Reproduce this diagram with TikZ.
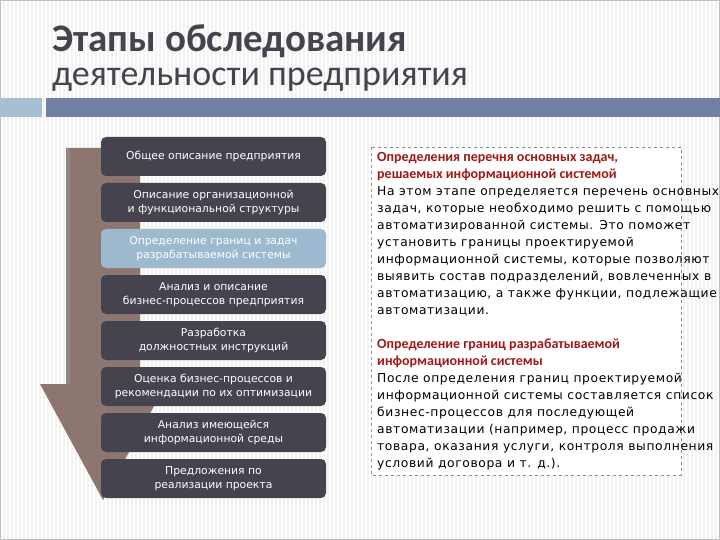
\documentclass[tikz,border=0pt]{standalone}
\usepackage{fontspec}
\setmainfont{Carlito}
\newfontfamily\boxfont{DejaVu Sans}
\newfontfamily\bodyfont[LetterSpace=5]{DejaVu Sans}
\definecolor{boxdark}{HTML}{45444E}
\definecolor{boxlight}{HTML}{9DB9CE}
\definecolor{barblue}{HTML}{7480A3}
\definecolor{sqblue}{HTML}{A7BFD3}
\definecolor{arrowbrown}{HTML}{8E7670}
\definecolor{titlegray}{HTML}{45444E}
\definecolor{headred}{HTML}{A01818}
\newcommand{\hd}[1]{{\color{headred}\rmfamily\fontsize{14}{17}\bfseries\selectfont #1}}
\begin{document}
\begin{tikzpicture}[x=1pt,y=-1pt,
  stage/.style={rounded corners=5pt, minimum width=225pt, minimum height=39pt, inner sep=0pt, align=center, text=white, font=\boxfont\fontsize{10.8}{14}\selectfont},
  dark/.style={stage, fill=boxdark},
  light/.style={stage, fill=boxlight}]
\useasboundingbox (0,0) rectangle (720,540);
\fill[white] (0,0) rectangle (720,540);
\foreach \i in {0,4,...,720} \draw[black!5, line width=1.4pt] (\i,0) -- (\i,540);
\draw[black!25] (0.5,0.5) rectangle (719.5,539.5);
% title
\node[anchor=base west, inner sep=0pt, text=titlegray, font=\fontsize{39}{44}\bfseries\selectfont] (t1) at (52,52) {Этапы обследования};
\node[anchor=base west, inner sep=0pt, text=titlegray, font=\fontsize{36}{42}\selectfont] (t2) at (52,86) {деятельности предприятия};
% bar
\fill[sqblue] (0,98) rectangle (42,117);
\fill[barblue] (46,98) rectangle (720,117);
% arrow
\fill[arrowbrown] (66,148) -- (140,148) -- (140,384) -- (166,384) -- (103,500) -- (40,384) -- (66,384) -- cycle;
\fill[black!40, opacity=0.5] (66,148) rectangle (70,384);
% boxes
\node[dark]  (b1) at (213.5,156.5) {Общее описание предприятия};
\node[dark]  (b2) at (213.5,202.5) {Описание организационной\\и функциональной структуры};
\node[light] (b3) at (213.5,248.5) {Определение границ и задач\\разрабатываемой системы};
\node[dark]  (b4) at (213.5,294.5) {Анализ и описание\\бизнес-процессов предприятия};
\node[dark]  (b5) at (213.5,340.5) {Разработка\\должностных инструкций};
\node[dark]  (b6) at (213.5,386.5) {Оценка бизнес-процессов и\\рекомендации по их оптимизации};
\node[dark]  (b7) at (213.5,432.5) {Анализ имеющейся\\информационной среды};
\node[dark]  (b8) at (213.5,478.5) {Предложения по\\реализации проекта};
% right text
\draw[black!45, dashed, fill=white] (371,147) rectangle (681,475);
\node[anchor=north west, align=left, inner sep=0pt, font=\bodyfont\fontsize{12.3}{17}\selectfont] (txt) at (377,152) {%
\hd{Определения перечня основных задач,}\\
\hd{решаемых информационной системой}\\
На этом этапе определяется перечень основных\\
задач, которые необходимо решить с помощью\\
автоматизированной системы. Это поможет\\
установить границы проектируемой\\
информационной системы, которые позволяют\\
выявить состав подразделений, вовлеченных в\\
автоматизацию, а также функции, подлежащие\\
автоматизации.\\[17pt]
\hd{Определение границ разрабатываемой}\\
\hd{информационной системы}\\
После определения границ проектируемой\\
информационной системы составляется список\\
бизнес-процессов для последующей\\
автоматизации (например, процесс продажи\\
товара, оказания услуги, контроля выполнения\\
условий договора и т. д.).};
\end{tikzpicture}
\end{document}
